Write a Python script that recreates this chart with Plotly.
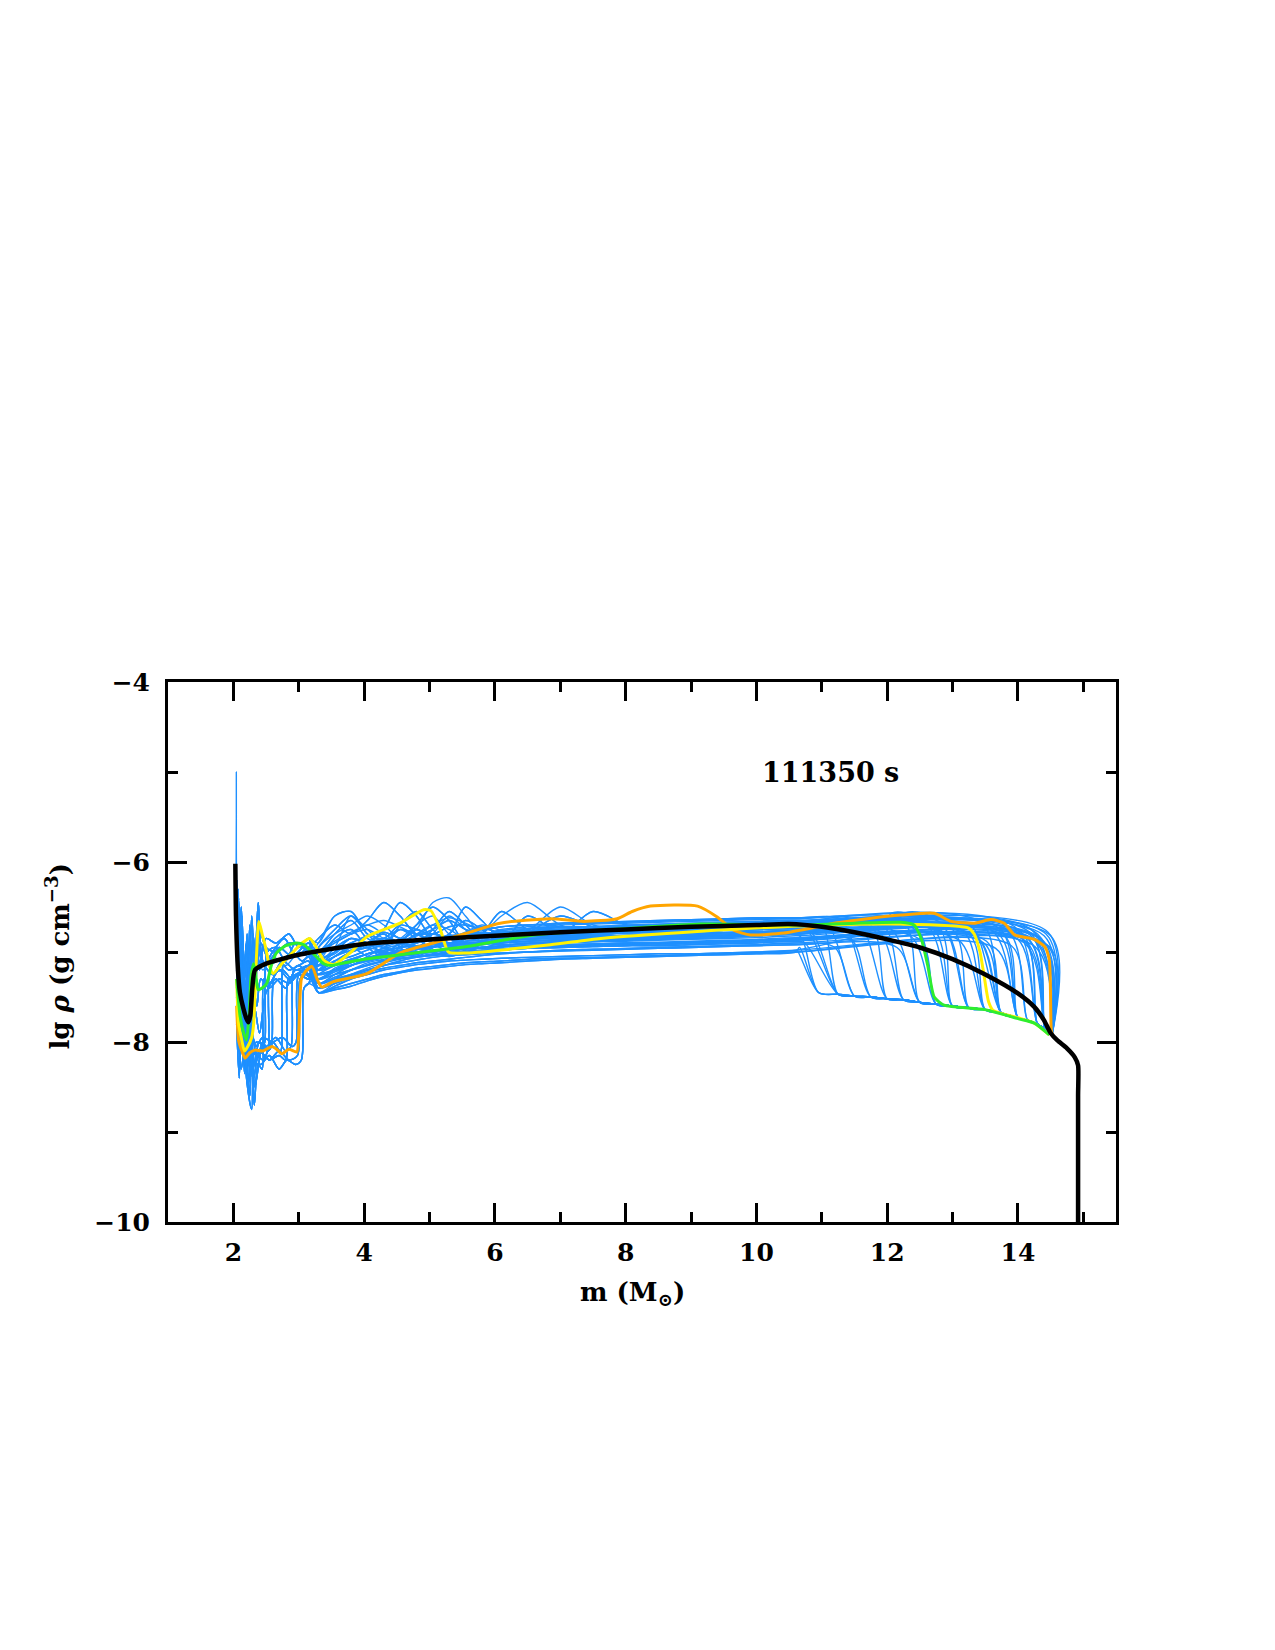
import plotly.graph_objects as go

# ---------------- data ----------------
BLACK_X = [2.03, 2.04, 2.07, 2.10, 2.15, 2.20, 2.23, 2.26, 2.29, 2.33, 2.5, 3.0, 4.0, 5.0, 6.0, 7.0,
           8.0, 9.0, 10.0, 10.5, 11.0, 11.5, 12.0, 12.5, 13.0, 13.5, 14.0, 14.25, 14.4, 14.5, 14.6,
           14.75, 14.87, 14.92, 14.92, 14.92]
BLACK_Y = [-6.02, -6.6, -7.2, -7.45, -7.62, -7.74, -7.78, -7.7, -7.4, -7.2, -7.13, -7.03, -6.91,
           -6.86, -6.82, -6.78, -6.75, -6.72, -6.70, -6.69, -6.72, -6.78, -6.86, -6.95, -7.08,
           -7.25, -7.46, -7.61, -7.76, -7.9, -7.98, -8.07, -8.17, -8.26, -8.6, -10.0]

ORANGE_X = [2.05, 2.08, 2.13, 2.18, 2.25, 2.33, 2.45, 2.59, 2.66, 2.74, 2.85, 2.97, 3.0, 3.04, 3.1,
            3.2, 3.28, 3.35, 3.53, 4.04, 4.55, 5.06, 5.57, 6.08, 6.85, 7.36, 7.87, 8.1, 8.38, 9.1,
            9.4, 9.66, 9.91, 10.42, 10.93, 11.19, 11.7, 12.21, 12.72, 12.98, 13.33, 13.59, 13.79,
            13.95, 14.25, 14.41, 14.48, 14.51, 14.53]
ORANGE_Y = [-7.6, -7.98, -8.1, -8.18, -8.12, -8.09, -8.1, -8.05, -8.08, -8.13, -8.08, -8.11, -7.9,
            -7.3, -7.22, -7.16, -7.3, -7.39, -7.33, -7.24, -7.01, -6.9, -6.79, -6.68, -6.63, -6.66,
            -6.63, -6.55, -6.49, -6.49, -6.61, -6.76, -6.81, -6.79, -6.72, -6.68, -6.63, -6.59,
            -6.57, -6.66, -6.68, -6.64, -6.68, -6.81, -6.86, -6.94, -7.09, -7.87, -7.93]

YELLOW_X = [2.05, 2.08, 2.12, 2.17, 2.22, 2.28, 2.31, 2.35, 2.39, 2.44, 2.49, 2.55, 2.61, 2.74, 2.94,
            3.05, 3.17, 3.27, 3.38, 3.53, 3.8, 4.04, 4.55, 4.91, 5.02, 5.17, 5.29, 5.57, 6.85, 7.62,
            9.15, 10.68, 12.21, 13.23, 13.33, 13.42, 13.49, 13.55, 13.62, 14.0, 14.25, 14.48]
YELLOW_Y = [-7.3, -7.8, -7.95, -8.1, -8.05, -7.95, -7.8, -7.1, -6.66, -6.8, -6.94, -7.15, -7.24,
            -7.13, -6.98, -6.9, -6.85, -6.95, -7.09, -7.14, -7.0, -6.83, -6.68, -6.53, -6.54, -6.76,
            -7.0, -7.01, -6.92, -6.85, -6.77, -6.71, -6.69, -6.73, -6.8, -7.0, -7.3, -7.55, -7.65,
            -7.73, -7.79, -7.92]

GREEN_X = [2.05, 2.1, 2.15, 2.2, 2.24, 2.27, 2.31, 2.35, 2.38, 2.44, 2.51, 2.58, 2.66, 2.8, 2.97,
           3.08, 3.17, 3.28, 3.38, 3.5, 3.63, 4.0, 4.55, 5.57, 6.6, 8.0, 9.15, 10.68, 12.21, 12.41,
           12.52, 12.62, 12.72, 12.87, 13.49, 14.0, 14.25, 14.48]
GREEN_Y = [-7.3, -7.7, -7.88, -7.98, -7.7, -7.27, -7.13, -7.3, -7.42, -7.4, -7.35, -7.15, -7.01,
           -6.93, -6.9, -6.92, -6.98, -7.06, -7.13, -7.15, -7.13, -7.08, -7.03, -6.94, -6.81,
           -6.74, -6.69, -6.7, -6.67, -6.7, -6.85, -7.15, -7.5, -7.59, -7.64, -7.74, -7.79, -7.92]

# blue model curves: inner parts (x 2.04 - 3.2)
HEADS = [
    ([2.04, 2.045, 2.05, 2.08, 2.12, 2.17, 2.22, 2.28, 2.35, 2.45, 2.6, 2.8, 3.0, 3.15],
     [-6.9, -5.0, -6.6, -7.4, -6.8, -7.6, -7.1, -7.5, -7.0, -7.2, -7.05, -7.15, -7.0, -7.05]),
    ([2.05, 2.08, 2.12, 2.18, 2.25, 2.3, 2.4, 2.55, 2.7, 2.85, 2.98, 3.02, 3.1, 3.2],
     [-7.0, -7.9, -8.3, -8.05, -8.6, -8.15, -8.1, -8.2, -8.1, -8.2, -8.15, -7.3, -7.25, -7.3]),
    ([2.05, 2.1, 2.15, 2.2, 2.28, 2.35, 2.5, 2.65, 2.8, 2.88, 2.92, 3.0, 3.15],
     [-7.2, -8.0, -7.7, -8.4, -8.75, -8.0, -8.05, -7.95, -8.1, -8.05, -7.2, -7.15, -7.25]),
    ([2.05, 2.09, 2.14, 2.2, 2.26, 2.32, 2.45, 2.6, 2.72, 2.77, 2.9, 3.05, 3.15],
     [-6.5, -7.6, -8.1, -7.9, -8.4, -8.1, -8.2, -8.0, -8.1, -7.1, -7.0, -7.1, -7.05]),
    ([2.05, 2.08, 2.13, 2.19, 2.24, 2.3, 2.4, 2.52, 2.58, 2.63, 2.75, 2.9, 3.05, 3.15],
     [-7.4, -6.9, -7.9, -8.2, -7.8, -8.3, -8.0, -8.1, -8.05, -7.25, -7.2, -7.3, -7.2, -7.15]),
    ([2.05, 2.07, 2.11, 2.16, 2.21, 2.27, 2.33, 2.42, 2.48, 2.52, 2.65, 2.8, 2.95, 3.15],
     [-6.8, -7.5, -6.6, -7.7, -8.3, -7.9, -8.5, -8.1, -8.0, -7.0, -6.95, -7.1, -6.9, -7.0]),
    ([2.05, 2.08, 2.1, 2.14, 2.18, 2.22, 2.26, 2.3, 2.36, 2.42, 2.55, 2.7, 2.9, 3.15],
     [-7.1, -6.4, -7.3, -6.9, -7.8, -7.0, -7.5, -6.8, -7.2, -6.9, -7.1, -6.95, -7.05, -6.9]),
    ([2.05, 2.09, 2.13, 2.17, 2.21, 2.25, 2.29, 2.33, 2.38, 2.45, 2.6, 2.75, 2.95, 3.15],
     [-7.6, -7.0, -7.9, -7.3, -7.6, -6.7, -7.7, -7.3, -6.45, -7.1, -7.25, -7.1, -7.2, -7.15]),
    ([2.05, 2.1, 2.16, 2.22, 2.28, 2.32, 2.38, 2.44, 2.47, 2.55, 2.7, 2.85, 3.0, 3.15],
     [-7.3, -8.2, -7.6, -8.5, -8.2, -8.7, -8.25, -8.3, -7.3, -7.35, -7.2, -7.3, -7.25, -7.3]),
    ([2.05, 2.1, 2.17, 2.23, 2.3, 2.42, 2.55, 2.7, 2.82, 2.95, 3.04, 3.08, 3.15],
     [-6.9, -7.7, -8.1, -7.8, -8.2, -8.25, -8.15, -8.3, -8.2, -8.25, -8.2, -7.4, -7.35]),
    ([2.05, 2.07, 2.12, 2.16, 2.2, 2.24, 2.28, 2.32, 2.36, 2.4, 2.5, 2.65, 2.85, 3.0, 3.15],
     [-6.2, -7.1, -6.5, -7.2, -6.9, -7.5, -6.6, -7.0, -6.9, -7.2, -6.85, -6.9, -6.8, -6.95, -6.85]),
    ([2.05, 2.09, 2.13, 2.18, 2.23, 2.27, 2.31, 2.36, 2.42, 2.55, 2.7, 2.85, 3.0, 3.15],
     [-7.8, -8.4, -7.5, -8.0, -7.2, -7.9, -7.4, -7.6, -7.3, -7.4, -7.3, -7.35, -7.25, -7.3]),
    ([2.05, 2.08, 2.12, 2.17, 2.22, 2.27, 2.32, 2.4, 2.5, 2.65, 2.8, 2.95, 3.15],
     [-7.5, -8.1, -7.4, -8.35, -7.9, -8.1, -7.6, -7.9, -7.45, -7.3, -7.4, -7.2, -7.25]),
    ([2.05, 2.08, 2.11, 2.15, 2.19, 2.24, 2.3, 2.37, 2.46, 2.6, 2.78, 2.96, 3.15],
     [-6.7, -7.3, -6.9, -7.6, -7.1, -7.7, -7.3, -6.9, -7.15, -7.0, -6.85, -7.05, -6.95]),
    ([2.05, 2.09, 2.14, 2.19, 2.25, 2.31, 2.4, 2.55, 2.7, 2.8, 2.84, 2.95, 3.1],
     [-7.1, -7.9, -7.5, -8.3, -8.0, -8.4, -8.1, -8.2, -8.15, -8.2, -7.3, -7.25, -7.2]),
    ([2.05, 2.08, 2.13, 2.18, 2.23, 2.29, 2.36, 2.45, 2.53, 2.57, 2.7, 2.85, 3.0, 3.15],
     [-7.3, -7.8, -7.2, -8.0, -8.45, -7.9, -8.2, -8.0, -8.1, -7.15, -7.1, -7.2, -7.15, -7.1]),
    ([2.05, 2.1, 2.15, 2.21, 2.27, 2.34, 2.45, 2.6, 2.75, 2.9, 2.96, 3.0, 3.15],
     [-6.8, -7.6, -7.9, -8.1, -7.85, -8.05, -7.95, -8.0, -7.95, -8.05, -8.0, -7.25, -7.2]),
    ([2.05, 2.07, 2.1, 2.13, 2.17, 2.21, 2.25, 2.29, 2.34, 2.4, 2.5, 2.65, 2.85, 3.15],
     [-6.9, -6.3, -7.0, -6.6, -7.3, -6.8, -7.6, -6.95, -7.4, -6.75, -6.95, -7.0, -6.9, -6.95]),
]

# middle parts, shared x knots
BODY_X = [3.3, 3.55, 3.8, 4.05, 4.3, 4.55, 4.8, 5.05, 5.3, 5.55, 5.8, 6.1, 6.5, 7.0, 7.5, 8.0,
          8.5, 9.0, 9.5, 10.0, 10.6]
BODIES = [
    [-7.15, -7.05, -6.95, -6.9, -6.85, -6.88, -6.82, -6.8, -6.85, -6.8, -6.78, -6.8, -6.77, -6.75, -6.74, -6.72, -6.71, -6.7, -6.69, -6.68, -6.67],
    [-7.3, -7.25, -7.2, -7.15, -7.1, -7.05, -7.02, -7.0, -6.98, -6.96, -6.95, -6.93, -6.91, -6.89, -6.88, -6.87, -6.86, -6.85, -6.84, -6.82, -6.8],
    [-6.95, -6.75, -6.6, -6.8, -6.95, -6.7, -6.55, -6.75, -6.9, -6.8, -6.72, -6.8, -6.74, -6.72, -6.72, -6.7, -6.69, -6.68, -6.67, -6.66, -6.65],
    [-7.45, -7.4, -7.35, -7.3, -7.25, -7.22, -7.18, -7.16, -7.14, -7.12, -7.11, -7.1, -7.08, -7.07, -7.06, -7.05, -7.04, -7.03, -7.02, -7.01, -7.0],
    [-7.05, -6.95, -6.85, -6.9, -6.75, -6.45, -6.6, -6.85, -6.8, -6.5, -6.65, -6.85, -6.78, -6.72, -6.75, -6.72, -6.7, -6.7, -6.69, -6.69, -6.68],
    [-7.2, -7.15, -7.08, -7.02, -6.98, -6.95, -6.93, -6.92, -6.9, -6.88, -6.87, -6.85, -6.83, -6.82, -6.8, -6.79, -6.78, -6.77, -6.76, -6.75, -6.74],
    [-7.0, -6.8, -6.65, -6.85, -6.9, -6.75, -6.85, -6.95, -6.8, -6.65, -6.75, -6.9, -6.6, -6.8, -6.82, -6.78, -6.76, -6.75, -6.74, -6.73, -6.72],
    [-7.45, -7.42, -7.38, -7.32, -7.27, -7.23, -7.2, -7.18, -7.16, -7.14, -7.13, -7.12, -7.1, -7.08, -7.07, -7.06, -7.05, -7.04, -7.03, -7.02, -7.0],
    [-7.1, -7.0, -6.9, -6.82, -6.78, -6.85, -6.9, -6.75, -6.55, -6.7, -6.85, -6.8, -6.78, -6.6, -6.72, -6.76, -6.74, -6.72, -6.71, -6.7, -6.7],
    [-7.25, -7.2, -7.12, -7.06, -7.02, -6.98, -6.96, -6.94, -6.92, -6.9, -6.89, -6.88, -6.86, -6.84, -6.83, -6.82, -6.81, -6.8, -6.79, -6.78, -6.76],
    [-6.9, -6.6, -6.55, -6.8, -6.85, -6.7, -6.75, -6.8, -6.72, -6.7, -6.75, -6.72, -6.7, -6.68, -6.67, -6.66, -6.65, -6.64, -6.63, -6.62, -6.62],
    [-7.35, -7.3, -7.25, -7.2, -7.15, -7.1, -7.06, -7.04, -7.02, -7.0, -6.99, -6.98, -6.96, -6.95, -6.94, -6.93, -6.93, -6.92, -6.91, -6.9, -6.88],
    [-7.2, -7.1, -7.0, -6.95, -6.9, -6.88, -6.7, -6.5, -6.65, -6.9, -6.92, -6.88, -6.85, -6.82, -6.55, -6.7, -6.8, -6.78, -6.76, -6.75, -6.72],
    [-7.3, -7.2, -7.1, -7.02, -6.96, -6.92, -6.88, -6.85, -6.83, -6.82, -6.8, -6.79, -6.78, -6.77, -6.76, -6.75, -6.74, -6.73, -6.72, -6.71, -6.7],
    [-7.1, -6.85, -6.75, -6.95, -7.05, -6.95, -6.8, -6.9, -7.0, -6.95, -6.9, -6.92, -6.9, -6.88, -6.87, -6.86, -6.85, -6.84, -6.83, -6.82, -6.8],
    [-7.4, -7.35, -7.28, -7.22, -7.18, -7.15, -7.12, -7.1, -7.08, -7.06, -7.04, -7.02, -7.0, -6.98, -6.97, -6.96, -6.95, -6.94, -6.93, -6.92, -6.9],
    [-7.0, -6.9, -6.8, -6.75, -6.85, -6.9, -6.8, -6.7, -6.75, -6.85, -6.8, -6.6, -6.45, -6.7, -6.78, -6.75, -6.74, -6.73, -6.72, -6.71, -6.7],
    [-7.2, -7.05, -6.95, -7.05, -7.1, -7.0, -6.95, -7.0, -7.05, -7.0, -6.95, -6.97, -6.95, -6.93, -6.92, -6.91, -6.9, -6.89, -6.88, -6.87, -6.85],
    [-7.35, -7.25, -7.15, -7.08, -7.0, -6.95, -6.9, -6.86, -6.84, -6.82, -6.8, -6.78, -6.76, -6.75, -6.74, -6.73, -6.72, -6.71, -6.7, -6.69, -6.68],
    [-6.85, -6.7, -6.8, -6.65, -6.45, -6.6, -6.8, -6.75, -6.65, -6.75, -6.8, -6.76, -6.74, -6.73, -6.72, -6.71, -6.7, -6.69, -6.68, -6.67, -6.66],
    [-7.25, -7.2, -7.15, -7.1, -7.06, -7.03, -7.0, -6.98, -6.97, -6.96, -6.95, -6.94, -6.93, -6.92, -6.91, -6.9, -6.9, -6.89, -6.88, -6.87, -6.86],
    [-7.15, -7.0, -6.85, -6.9, -7.0, -6.9, -6.75, -6.85, -6.92, -6.85, -6.8, -6.55, -6.75, -6.82, -6.8, -6.79, -6.78, -6.77, -6.76, -6.75, -6.74],
    [-7.4, -7.32, -7.26, -7.2, -7.15, -7.12, -7.09, -7.06, -7.04, -7.03, -7.02, -7.01, -7.0, -6.99, -6.98, -6.97, -6.96, -6.95, -6.94, -6.93, -6.92],
    [-7.05, -6.9, -6.8, -6.7, -6.8, -6.9, -6.95, -6.8, -6.6, -6.75, -6.88, -6.85, -6.82, -6.8, -6.78, -6.77, -6.76, -6.75, -6.74, -6.73, -6.72],
    [-7.3, -7.22, -7.15, -7.08, -7.03, -7.0, -6.97, -6.95, -6.93, -6.92, -6.91, -6.9, -6.88, -6.87, -6.86, -6.85, -6.84, -6.83, -6.82, -6.81, -6.8],
    [-7.1, -6.95, -6.6, -6.75, -6.9, -6.85, -6.7, -6.6, -6.8, -6.85, -6.75, -6.78, -6.76, -6.5, -6.7, -6.74, -6.73, -6.72, -6.7, -6.69, -6.68],
    [-7.45, -7.38, -7.3, -7.25, -7.2, -7.17, -7.14, -7.12, -7.1, -7.09, -7.08, -7.07, -7.06, -7.05, -7.04, -7.03, -7.02, -7.02, -7.01, -7.0, -6.98],
    [-7.0, -6.95, -7.0, -6.9, -6.8, -6.95, -7.05, -6.95, -6.85, -6.9, -6.95, -6.9, -6.88, -6.86, -6.85, -6.84, -6.83, -6.82, -6.81, -6.8, -6.78],
    [-7.2, -7.1, -7.05, -6.98, -6.92, -6.88, -6.86, -6.84, -6.82, -6.8, -6.79, -6.78, -6.77, -6.76, -6.75, -6.74, -6.73, -6.72, -6.71, -6.7, -6.69],
    [-6.95, -6.8, -6.7, -6.6, -6.7, -6.85, -6.75, -6.45, -6.4, -6.6, -6.8, -6.75, -6.72, -6.7, -6.69, -6.68, -6.67, -6.66, -6.65, -6.64, -6.63],
    [-7.35, -7.28, -7.2, -7.14, -7.1, -7.07, -7.05, -7.03, -7.01, -7.0, -6.98, -6.97, -6.95, -6.94, -6.93, -6.92, -6.91, -6.9, -6.89, -6.88, -6.86],
    [-7.15, -7.05, -6.98, -6.92, -6.95, -7.0, -6.9, -6.8, -6.85, -6.92, -6.88, -6.84, -6.82, -6.8, -6.79, -6.78, -6.77, -6.76, -6.75, -6.74, -6.73],
    [-7.25, -7.15, -7.08, -7.1, -7.05, -6.98, -7.0, -6.95, -6.9, -6.92, -6.9, -6.88, -6.86, -6.85, -6.84, -6.83, -6.82, -6.81, -6.8, -6.79, -6.77],
    [-7.4, -7.3, -7.2, -7.12, -7.08, -7.05, -7.03, -7.0, -6.98, -6.97, -6.96, -6.95, -6.93, -6.92, -6.91, -6.9, -6.89, -6.88, -6.87, -6.86, -6.84],
    [-7.1, -7.02, -6.9, -6.95, -6.85, -6.75, -6.8, -6.9, -6.85, -6.78, -6.7, -6.76, -6.8, -6.78, -6.77, -6.76, -6.75, -6.74, -6.73, -6.72, -6.71],
    [-7.3, -7.18, -7.1, -7.02, -7.0, -7.02, -6.96, -6.9, -6.93, -6.95, -6.9, -6.87, -6.85, -6.83, -6.82, -6.81, -6.8, -6.79, -6.78, -6.77, -6.76],
    [-7.2, -7.12, -7.15, -7.05, -6.95, -6.9, -6.95, -7.0, -6.95, -6.88, -6.85, -6.83, -6.81, -6.8, -6.79, -6.78, -6.77, -6.76, -6.75, -6.74, -6.73],
    [-7.45, -7.35, -7.25, -7.18, -7.12, -7.08, -7.05, -7.02, -7.0, -6.99, -6.98, -6.97, -6.96, -6.95, -6.94, -6.93, -6.92, -6.91, -6.9, -6.89, -6.87],
    [-7.0, -6.88, -6.78, -6.7, -6.65, -6.72, -6.8, -6.7, -6.62, -6.68, -6.75, -6.72, -6.7, -6.69, -6.68, -6.67, -6.66, -6.65, -6.64, -6.63, -6.63],
    [-7.15, -7.1, -7.0, -6.95, -7.0, -7.05, -6.98, -6.92, -6.95, -6.98, -6.95, -6.93, -6.91, -6.9, -6.89, -6.88, -6.87, -6.86, -6.85, -6.84, -6.82],
]

# lower envelope that the outer parts fall onto
ENV_X = [10.95, 11.25, 11.5, 11.75, 12.0, 12.25, 12.5, 12.75, 13.0, 13.25, 13.5, 13.75, 14.0,
         14.15, 14.3, 14.42, 14.52]
ENV_Y = [-7.45, -7.47, -7.49, -7.5, -7.52, -7.53, -7.56, -7.58, -7.6, -7.62, -7.64, -7.68, -7.73,
         -7.76, -7.8, -7.86, -7.93]

HUMP_A = [(11.8, -6.75), (12.1, -6.56), (12.4, -6.6), (12.65, -6.74)]
HUMP_B = [(12.0, -6.72), (12.3, -6.56), (12.55, -6.57), (12.85, -6.68)]
HUMP_C = [(11.6, -6.72), (11.9, -6.6), (12.2, -6.62), (12.5, -6.78)]

# each model: inner part, middle part, edge mass coordinate, edge density, extra outer knots
MODELS = [
    (0, 2, 14.46, -6.78, []), (1, 3, 10.62, -6.98, []), (2, 7, 10.66, -6.95, []),
    (3, 1, 10.70, -6.85, []), (4, 11, 10.74, -6.90, []), (5, 5, 10.80, -6.78, []),
    (6, 9, 10.86, -6.80, []), (7, 0, 11.00, -6.70, []), (8, 13, 11.10, -6.72, []),
    (9, 15, 11.20, -6.95, []), (10, 10, 11.30, -6.65, []), (11, 20, 11.45, -6.86, []),
    (12, 4, 11.75, -6.70, []), (13, 6, 11.85, -6.75, []), (14, 8, 11.95, -6.72, []),
    (15, 12, 12.05, -6.74, []), (16, 22, 12.15, -6.95, []), (17, 19, 12.25, -6.66, []),
    (1, 14, 12.35, -6.82, []), (2, 24, 12.50, -6.86, []), (3, 18, 12.60, -6.70, []),
    (4, 16, 12.70, -6.74, []), (5, 28, 12.85, -6.72, []), (6, 26, 12.92, -6.80, HUMP_A),
    (7, 21, 13.00, -6.75, []), (8, 17, 13.08, -6.86, []), (9, 23, 13.15, -6.76, []),
    (10, 25, 13.30, -6.72, HUMP_B), (11, 27, 13.38, -6.84, []), (12, 29, 13.45, -6.68, []),
    (13, 30, 13.52, -6.88, []), (14, 31, 13.60, -6.76, []), (15, 3, 13.66, -6.96, []),
    (16, 0, 13.72, -6.74, []), (17, 5, 13.78, -6.80, []), (1, 13, 13.84, -6.76, []),
    (12, 7, 13.90, -6.93, []), (3, 10, 13.95, -6.72, []), (4, 1, 14.00, -6.86, HUMP_C),
    (5, 6, 14.05, -6.78, []), (6, 11, 14.10, -6.90, []), (7, 9, 14.14, -6.84, []),
    (8, 4, 14.18, -6.78, []), (9, 2, 14.22, -6.76, []), (10, 15, 14.26, -6.94, []),
    (11, 8, 14.30, -6.80, []), (12, 20, 14.34, -6.86, []), (13, 24, 14.37, -6.86, []),
    (14, 28, 14.40, -6.82, []), (15, 18, 14.43, -6.80, []), (16, 26, 14.48, -6.94, []),
    (17, 19, 14.50, -6.82, []), (1, 30, 14.28, -6.88, []), (2, 21, 14.20, -6.82, []),
    (3, 17, 14.12, -6.88, []), (4, 22, 14.44, -6.92, []), (5, 14, 13.35, -6.82, []),
    (6, 27, 14.08, -6.86, []), (7, 12, 12.45, -6.74, []), (8, 31, 13.25, -6.80, []),
    (9, 32, 14.16, -6.86, []), (10, 33, 13.48, -6.90, []), (11, 34, 12.78, -6.72, []),
    (13, 35, 14.32, -6.84, []), (14, 36, 13.70, -6.80, []), (15, 37, 14.38, -6.92, []),
    (16, 38, 11.55, -6.66, []), (17, 39, 14.24, -6.86, []),
]

X_TICKS = [2, 4, 6, 8, 10, 12, 14]
X_MINOR = [3, 5, 7, 9, 11, 13, 15]
Y_TICKS = [-10, -8, -6, -4]
Y_MINOR = [-9, -7, -5]
LABEL_TIME = "111350 s"

# ---------------- figure ----------------
fig = go.Figure()

for hi, bi, xc, yc, extra in MODELS:
    hx, hy = HEADS[hi]
    by = BODIES[bi]
    k = next((i for i, ex in enumerate(ENV_X) if ex >= xc + 0.22), len(ENV_X) - 1)
    xs = list(hx) + BODY_X + [p[0] for p in extra] + [xc] + ENV_X[k:]
    ys = list(hy) + by + [p[1] for p in extra] + [yc] + ENV_Y[k:]
    fig.add_trace(go.Scatter(x=xs, y=ys, mode="lines",
                             line=dict(color="#1E90FF", width=1.4, shape="spline", smoothing=0.85),
                             hoverinfo="skip", showlegend=False))

for xs, ys, col, w in [(ORANGE_X, ORANGE_Y, "#FFA500", 3),
                       (YELLOW_X, YELLOW_Y, "#FFF200", 3),
                       (GREEN_X, GREEN_Y, "#2EEE2E", 3),
                       (BLACK_X, BLACK_Y, "#000000", 4.5)]:
    fig.add_trace(go.Scatter(x=xs, y=ys, mode="lines",
                             line=dict(color=col, width=w, shape="spline", smoothing=0.6),
                             hoverinfo="skip", showlegend=False))

FONT = "DejaVu Serif"
TICKFONT = dict(family=FONT, size=25, color="black", weight="bold")
axis_common = dict(showline=True, linecolor="black", linewidth=3, mirror="ticks",
                   ticks="inside", ticklen=19, tickwidth=2.5, tickcolor="black",
                   showgrid=False, zeroline=False, tickfont=TICKFONT)

fig.update_xaxes(range=[1, 15.5], tickvals=X_TICKS, ticktext=[str(v) for v in X_TICKS],
                 ticklabelstandoff=6,
                 minor=dict(ticks="inside", ticklen=10, tickwidth=2.5, tickcolor="black",
                            tickvals=X_MINOR, showgrid=False),
                 **axis_common)
fig.update_yaxes(range=[-10, -4], tickvals=Y_TICKS,
                 ticktext=["\u221210", "\u22128", "\u22126", "\u22124"],
                 ticklabelstandoff=10,
                 minor=dict(ticks="inside", ticklen=10, tickwidth=2.5, tickcolor="black",
                            tickvals=Y_MINOR, showgrid=False),
                 **axis_common)

fig.add_annotation(x=11.14, y=-5.0, xref="x", yref="y", text=LABEL_TIME, showarrow=False,
                   xanchor="center", yanchor="middle",
                   font=dict(family=FONT, size=27, color="black", weight="bold"))
fig.add_annotation(x=0.4905, y=-0.1333, xref="paper", yref="paper",
                   text="m (M<sub>\u2299</sub>)", showarrow=False,
                   xanchor="center", yanchor="middle",
                   font=dict(family=FONT, size=26, color="black", weight="bold"))
fig.add_annotation(x=-0.1155, y=0.4926, xref="paper", yref="paper", textangle=-90,
                   text="lg <i>\u03c1</i> (g cm<sup>\u22123</sup>)", showarrow=False,
                   xanchor="center", yanchor="middle",
                   font=dict(family=FONT, size=26, color="black", weight="bold"))

fig.update_layout(width=1275, height=1650, plot_bgcolor="white", paper_bgcolor="white",
                  margin=dict(l=168, r=159, t=682, b=428, autoexpand=False))

fig.write_html("out.html")
